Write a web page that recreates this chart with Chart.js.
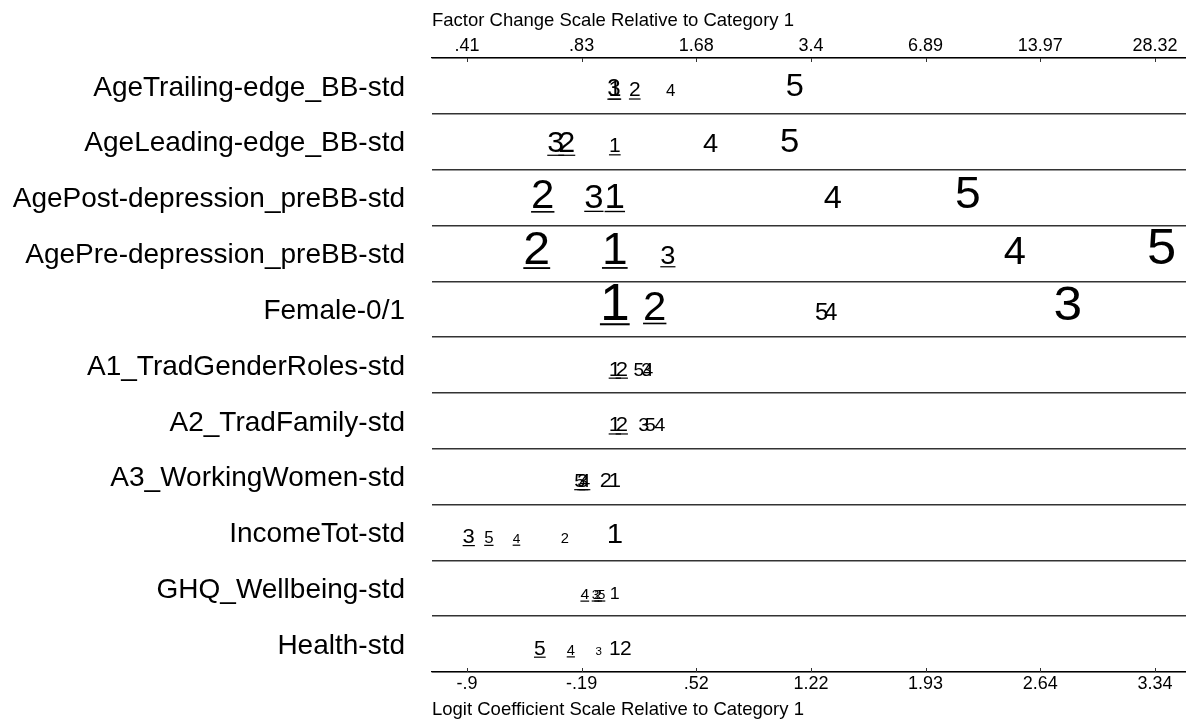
<!DOCTYPE html>
<html>
<head>
<meta charset="utf-8">
<title>Odds ratio plot</title>
<script src="https://cdn.jsdelivr.net/npm/chart.js@4.4.1/dist/chart.umd.min.js"></script>
<style>
  html, body { margin: 0; padding: 0; background: #fff; }
  #wrap { width: 1186px; height: 722px; }
</style>
</head>
<body>
<div id="wrap"><canvas id="chartCanvas" width="1186" height="722"></canvas></div>
<script>
// variables (rows, top to bottom)
const variables = [
  'AgeTrailing-edge_BB-std',
  'AgeLeading-edge_BB-std',
  'AgePost-depression_preBB-std',
  'AgePre-depression_preBB-std',
  'Female-0/1',
  'A1_TradGenderRoles-std',
  'A2_TradFamily-std',
  'A3_WorkingWomen-std',
  'IncomeTot-std',
  'GHQ_Wellbeing-std',
  'Health-std'
];

const categories = ['1', '2', '3', '4', '5'];

// logit coefficients relative to category 1 (one value per variable)
const coef1 = [0, 0, 0, 0, 0, 0, 0, 0, 0, 0, 0];
const coef2 = [0.123, -0.296, -0.444, -0.481, 0.246, 0.043, 0.043, -0.055, -0.308, -0.103, 0.068];
const coef3 = [-0.005, -0.364, -0.129, 0.327, 2.791, 0.195, 0.179, -0.197, -0.900, -0.119, -0.099];
const coef4 = [0.345, 0.590, 1.343, 2.465, 1.331, 0.205, 0.277, -0.185, -0.606, -0.185, -0.271];
const coef5 = [1.109, 1.078, 2.175, 3.370, 1.275, 0.148, 0.219, -0.216, -0.776, -0.082, -0.462];

// discrete change magnitudes (drive the size of the digit)
const dc1 = [0.22, 0.20, 0.35, 0.44, 0.51, 0.21, 0.21, 0.21, 0.28, 0.17, 0.20];
const dc2 = [0.20, 0.29, 0.40, 0.46, 0.40, 0.21, 0.21, 0.21, 0.14, 0.13, 0.20];
const dc3 = [0.23, 0.29, 0.33, 0.26, 0.49, 0.18, 0.19, 0.19, 0.21, 0.13, 0.11];
const dc4 = [0.16, 0.26, 0.31, 0.38, 0.23, 0.18, 0.19, 0.19, 0.13, 0.15, 0.14];
const dc5 = [0.31, 0.33, 0.44, 0.50, 0.23, 0.18, 0.19, 0.19, 0.16, 0.13, 0.20];

// 1 = not significant (underlined)
const ns1 = [1, 1, 1, 1, 1, 1, 1, 0, 0, 0, 0];
const ns2 = [1, 1, 1, 1, 1, 1, 1, 0, 0, 1, 0];
const ns3 = [1, 1, 1, 1, 0, 0, 0, 1, 1, 1, 0];
const ns4 = [0, 0, 0, 0, 0, 0, 0, 1, 1, 1, 1];
const ns5 = [0, 0, 0, 0, 0, 0, 0, 1, 1, 1, 1];

// axis ticks
const logitTicks = [-0.896, -0.189, 0.517, 1.224, 1.930, 2.637, 3.344];
const logitTickLabels = ['-.9', '-.19', '.52', '1.22', '1.93', '2.64', '3.34'];
const factorTickLabels = ['.41', '.83', '1.68', '3.4', '6.89', '13.97', '28.32'];

const X_MIN = -1.111;
const X_MAX = 3.535;
const FONT = '"Liberation Sans", Arial, Helvetica, sans-serif';
const SIZE_SCALE = 100;   // px per unit of discrete change
const STRETCH = 1.05;     // horizontal stretch of the digits
const BASELINE_DROP = 10.5;
const X_NUDGE = 2.5;

const coefs = [coef1, coef2, coef3, coef4, coef5];
const dcs = [dc1, dc2, dc3, dc4, dc5];
const nss = [ns1, ns2, ns3, ns4, ns5];

Chart.defaults.font.family = FONT;
Chart.defaults.color = '#000';

// draws the category digits at the dataset points
const digitLabels = {
  id: 'digitLabels',
  afterDatasetsDraw(chart) {
    const ctx = chart.ctx;
    chart.data.datasets.forEach((ds, i) => {
      const meta = chart.getDatasetMeta(i);
      meta.data.forEach((pt, j) => {
        const size = dcs[i][j] * SIZE_SCALE;
        ctx.save();
        ctx.translate(pt.x + X_NUDGE, pt.y + BASELINE_DROP);
        ctx.scale(STRETCH, 1);
        ctx.font = size + 'px ' + FONT;
        ctx.fillStyle = '#000';
        ctx.textAlign = 'center';
        ctx.textBaseline = 'alphabetic';
        ctx.fillText(ds.label, 0, 0);
        if (nss[i][j]) {
          const w = ctx.measureText(ds.label).width;
          const th = Math.max(1.2, size * 0.04);
          ctx.fillRect(-w / 2, 1 + size * 0.05, w, th);
        }
        ctx.restore();
      });
    });
  },
  afterDraw(chart) {
    // inward tick marks on both x axes
    const ctx = chart.ctx;
    const area = chart.chartArea;
    const xs = chart.scales.x;
    ctx.save();
    ctx.strokeStyle = '#333';
    ctx.lineWidth = 1;
    logitTicks.forEach(v => {
      const px = Math.round(xs.getPixelForValue(v)) + 0.5;
      ctx.beginPath();
      ctx.moveTo(px, area.bottom);
      ctx.lineTo(px, area.bottom - 4);
      ctx.moveTo(px, area.top);
      ctx.lineTo(px, area.top + 4);
      ctx.stroke();
    });
    ctx.restore();
  }
};

const datasets = categories.map((c, i) => ({
  label: c,
  data: coefs[i].map((v, j) => ({ x: v, y: variables[j] })),
  pointRadius: 0,
  pointHoverRadius: 0,
  showLine: false,
  xAxisID: 'x',
  yAxisID: 'y'
}));

const xCommon = {
  type: 'linear',
  min: X_MIN,
  max: X_MAX,
  afterBuildTicks: s => { s.ticks = logitTicks.map(v => ({ value: v })); },
  grid: { drawOnChartArea: false, drawTicks: false },
  border: { display: true, color: '#000', width: 1.3 }
};

new Chart(document.getElementById('chartCanvas'), {
  type: 'scatter',
  data: { datasets: datasets },
  options: {
    responsive: false,
    animation: false,
    layout: { padding: 0 },
    events: [],
    plugins: { legend: { display: false }, tooltip: { enabled: false } },
    scales: {
      x: Object.assign({}, xCommon, {
        position: 'bottom',
        ticks: {
          autoSkip: false, maxRotation: 0, padding: 1,
          font: { size: 18 }, color: '#000',
          callback: (v, i) => logitTickLabels[i]
        },
        title: {
          display: true, text: 'Logit Coefficient Scale Relative to Category 1',
          align: 'start', color: '#000', font: { size: 18.5 },
          padding: { top: 0, bottom: 1 }
        },
        afterFit: s => { s.height = 50; }
      }),
      x2: Object.assign({}, xCommon, {
        position: 'top',
        ticks: {
          autoSkip: false, maxRotation: 0, padding: 1,
          font: { size: 18 }, color: '#000',
          callback: (v, i) => factorTickLabels[i]
        },
        title: {
          display: true, text: 'Factor Change Scale Relative to Category 1',
          align: 'start', color: '#000', font: { size: 18.5 },
          padding: { top: 10, bottom: 0 }
        },
        afterFit: s => { s.height = 58; }
      }),
      y: {
        type: 'category',
        labels: variables,
        offset: true,
        grid: { offset: true, color: '#333', lineWidth: 1.4, drawTicks: false },
        border: { display: false },
        ticks: {
          autoSkip: false, padding: 27, labelOffset: 2,
          font: { size: 28 }, color: '#000'
        },
        afterFit: s => { s.width = 432; }
      }
    }
  },
  plugins: [digitLabels]
});
</script>
</body>
</html>
